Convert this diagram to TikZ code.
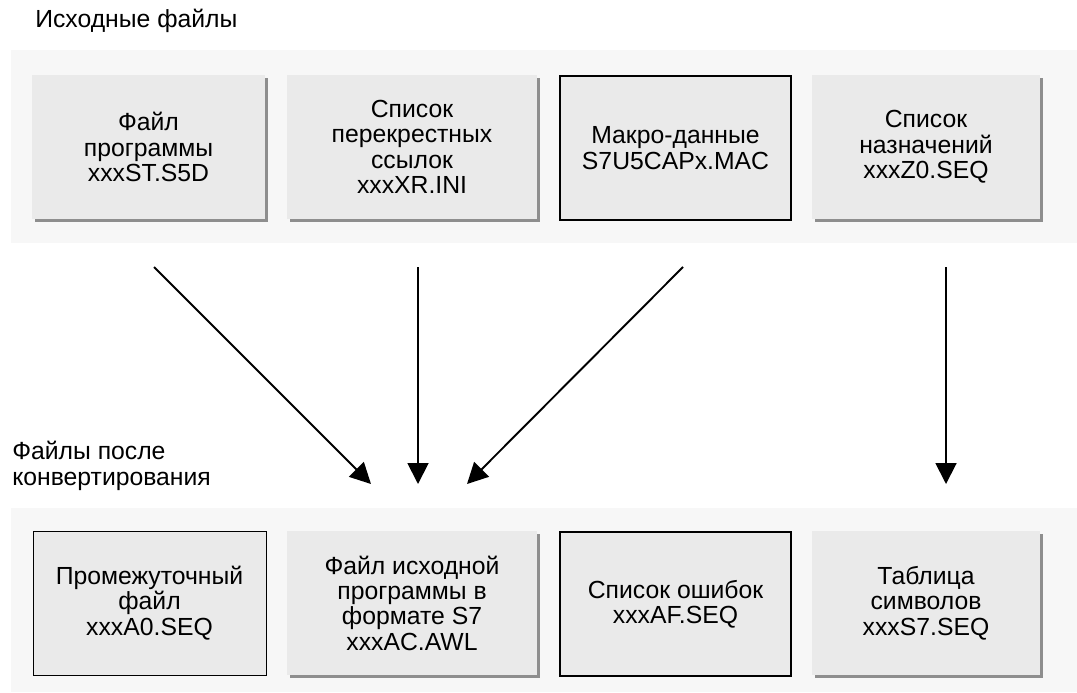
\documentclass[tikz,border=0pt]{standalone}
\usepackage{fontspec}
\setmainfont{Liberation Sans}
\usepackage{tikz}
\usetikzlibrary{arrows.meta,shadows}
\definecolor{panelgray}{HTML}{F7F7F7}
\definecolor{boxgray}{HTML}{EAEAEA}
\definecolor{shadegray}{HTML}{8E8E8E}
\tikzset{
  panel/.style={fill=panelgray, draw=none},
  filebox/.style={rectangle, fill=boxgray, minimum height=3.6cm, align=center, inner sep=0pt,
    font=\fontsize{17.6}{18}\selectfont},
  shadebox/.style={filebox, drop shadow={shadow xshift=0.075cm, shadow yshift=-0.075cm, fill=shadegray, opacity=1}},
  framebox/.style={filebox, draw=black, line width=#1},
  flow/.style={-{Triangle[length=5.2mm, width=5.2mm]}, line width=1.35pt},
  caption/.style={font=\fontsize{17.6}{18}\selectfont, align=left, inner sep=0pt}
}
\newcommand{\shadefile}[4] {\node at (#1) (#2) [shadebox, minimum width=#3] {#4};}
\newcommand{\framefile}[5] {\node at (#1) (#2) [framebox=#4, minimum width=#3] {#5};}
\newcommand{\fileflow}[2] {\draw [flow] (#1) -- (#2);}

\begin{document}
\begin{tikzpicture}[x=0.025cm, y=-0.025cm]
\useasboundingbox (0,0) rectangle (1077,692);

\node at (35,27) (srctitle) [caption, anchor=base west] {Исходные файлы};
\fill [panel] (11,50) rectangle (1077,243);

\shadefile {148.5,147} {prg} {5.825cm} {Файл\\программы\\xxxST.S5D}
\shadefile {412,147} {xref} {6.25cm} {Список\\перекрестных\\ссылок\\xxxXR.INI}
\framefile {675.5,148} {macro} {5.775cm} {0.9pt} {Макро-данные\\S7U5CAPx.MAC}
\shadefile {926,147} {assign} {5.7cm} {Список\\назначений\\xxxZ0.SEQ}

\node at (12,485) (dsttitle) [caption, anchor=base west] {Файлы после\\конвертирования};
\fill [panel] (11,508) rectangle (1077,692);

\framefile {149.5,603} {interm} {5.825cm} {0.5pt} {Промежуточный\\файл\\xxxA0.SEQ}
\shadefile {412,603} {awl} {6.25cm} {Файл исходной\\программы в\\формате S7\\xxxAC.AWL}
\framefile {675.5,604} {errors} {5.775cm} {1.3pt} {Список ошибок\\xxxAF.SEQ}
\shadefile {926,603} {symbols} {5.7cm} {Таблица\\символов\\xxxS7.SEQ}

% arrow ends between the two panels
\coordinate (prg-out) at (154,267);
\coordinate (xref-out) at (418,267);
\coordinate (macro-out) at (683,267);
\coordinate (assign-out) at (946,267);
\coordinate (awl-in1) at (371,484);
\coordinate (awl-in2) at (418,484);
\coordinate (awl-in3) at (467,484);
\coordinate (symbols-in) at (946,484);

\fileflow{prg-out}{awl-in1}
\fileflow{xref-out}{awl-in2}
\fileflow{macro-out}{awl-in3}
\fileflow{assign-out}{symbols-in}
\end{tikzpicture}
\end{document}
